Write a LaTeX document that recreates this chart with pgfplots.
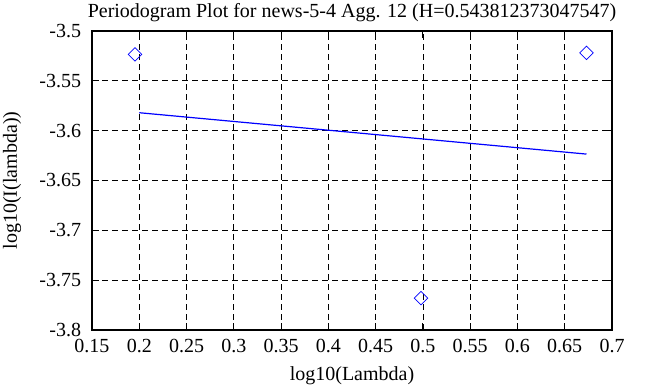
\documentclass[border=0pt]{standalone}
\usepackage{fontspec}
\setmainfont{Liberation Serif}
\usepackage{pgfplots}
\pgfplotsset{compat=1.18}
\begin{document}
\fontsize{20}{24}\selectfont
\begin{tikzpicture}
\begin{axis}[
  at={(0pt,0pt)}, anchor=south west,
  scale only axis, width=520pt, height=299pt,
  xmin=0.15, xmax=0.7, ymin=-3.8, ymax=-3.5,
  xtick={0.15,0.2,0.25,0.3,0.35,0.4,0.45,0.5,0.55,0.6,0.65,0.7},
  xticklabels={0.15,0.2,0.25,0.3,0.35,0.4,0.45,0.5,0.55,0.6,0.65,0.7},
  ytick={-3.8,-3.75,-3.7,-3.65,-3.6,-3.55,-3.5},
  yticklabels={-3.8,-3.75,-3.7,-3.65,-3.6,-3.55,-3.5},
  tick align=inside, major tick length=7pt,
  tick style={black, line width=1pt},
  axis line style={black, line width=1.6pt},
  grid=major,
  major grid style={black, line width=0.8pt, dash pattern=on 6pt off 4pt},
  xticklabel style={yshift=-2pt},
  yticklabel style={xshift=-4pt},
  clip=false,
]
\addplot[only marks, mark=square, mark size=4.8pt, mark options={rotate=45, blue, line width=0.7pt}]
  coordinates {(0.1955,-3.5234) (0.498,-3.768) (0.673,-3.522)};
\addplot[blue, line width=1.2pt] coordinates {(0.2,-3.582) (0.673,-3.6235)};
\end{axis}
\node[anchor=base] at (260pt,312.7pt) {Periodogram Plot for news-5-4 Agg. 12 (H=0.543812373047547)};
\node[anchor=base] at (260pt,-50.7pt) {log10(Lambda)};
\node[rotate=90] at (-80pt,149.5pt) {log10(I(lambda))};
\pgfresetboundingbox
\path (-92pt,-57pt) rectangle (560pt,330pt);
\end{tikzpicture}
\end{document}
